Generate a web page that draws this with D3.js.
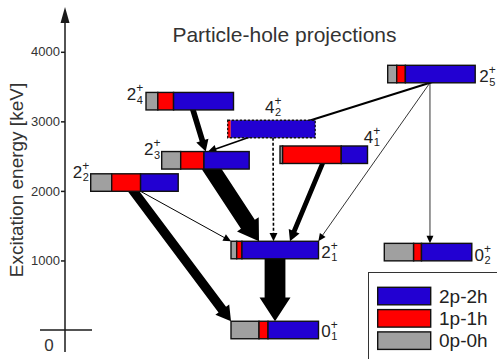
<!DOCTYPE html>
<html>
<head>
<meta charset="utf-8">
<script src="https://cdn.jsdelivr.net/npm/d3@7"></script>
<style>
  html, body { margin: 0; padding: 0; background: #fff; }
  svg { display: block; font-family: "Liberation Sans", Arial, sans-serif; }
</style>
</head>
<body>
<svg id="chart" width="497" height="359"></svg>
<script>
// ---- Levels: spin, index, excitation energy (keV) and particle-hole content ----
const levelNames  = ["0_1", "2_1", "0_2", "2_2", "2_3", "2_4", "4_2", "4_1", "2_5"];
const levelSpin   = ["0", "2", "0", "2", "2", "2", "4", "4", "2"];
const levelIndex  = ["1", "1", "2", "2", "3", "4", "2", "1", "5"];
const levelEnergy = [0, 1150, 1120, 2120, 2440, 3290, 2890, 2520, 3680];
const proj0p0h    = [0.320, 0.065, 0.335, 0.240, 0.217, 0.135, 0.000, 0.030, 0.103];
const proj1p1h    = [0.103, 0.060, 0.090, 0.330, 0.266, 0.180, 0.035, 0.670, 0.099];
const proj2p2h    = [0.577, 0.875, 0.575, 0.430, 0.517, 0.685, 0.965, 0.300, 0.798];
const levelTentative = [false, false, false, false, false, false, true, false, false];

// ---- E2 transitions (relative strength, arbitrary units) ----
const transFrom     = ["2_4", "4_2", "2_5", "2_5", "2_5", "4_2", "4_1", "2_3", "2_2", "2_2", "2_1"];
const transTo       = ["2_3", "2_3", "4_2", "2_1", "0_2", "2_1", "2_1", "2_1", "2_1", "0_1", "0_1"];
const transStrength = [28, 8, 10, 4, 4, 8, 24, 83, 5, 47, 104];
const transTentative = [false, false, false, false, false, true, false, false, false, false, false];

const energyTicks = [1000, 2000, 3000, 4000];
const components  = ["2p-2h", "1p-1h", "0p-0h"];

// ---- Layout ----
const svg = d3.select("#chart");
const y = d3.scaleLinear().domain([0, 4000]).range([330, 51.8]);
const barW = 87.5, barH = 17.5;
const frac = d3.scaleLinear().domain([0, 1]).range([0, barW]);
const strokeW = d3.scaleLinear().domain([0, 100]).range([0, 20]);
const color = d3.scaleOrdinal().domain(components).range(["#2200d2", "#ff0000", "#a0a0a0"]);
const ink = "#1a1a1a";

// left edge of each level's bar
const column = { "0_1": 231, "2_1": 231, "0_2": 384.3, "2_2": 90.7, "2_3": 161.7,
                 "2_4": 146, "4_2": 227.7, "4_1": 280, "2_5": 387.7 };
// label anchor: reference edge of the bar and offset of the main glyph
const labelPlace = {
  "0_1": { edge: "right", dx: 2.7,   dy: 15.5 },
  "2_1": { edge: "right", dx: 2.7,   dy: 16.7 },
  "0_2": { edge: "right", dx: 2.7,   dy: 17.4 },
  "2_5": { edge: "right", dx: 4,     dy: 16.7 },
  "2_2": { edge: "left",  dx: -18,   dy: 3.7 },
  "2_3": { edge: "left",  dx: -17.7, dy: 3.7 },
  "2_4": { edge: "left",  dx: -19.3, dy: 7.7 },
  "4_2": { edge: "left",  dx: 37.3,  dy: -7.7 },
  "4_1": { edge: "right", dx: -3.7,  dy: -3 }
};
// where each arrow leaves / reaches a bar (fraction along the bar)
const arrowAnchor = [
  [0.537, 0.503, "top"], [0.232, 0.53, "top"], [0.483, 0.63, "mid"],
  [0.483, 0.998, "top"], [0.483, 0.522, "top"], [0.518, 0.486, "top"],
  [0.486, 0.674, "top"], [0.571, 0.32, "top"], [0.569, 0.0, "top"],
  [0.49, 0.0, "top"], [0.503, 0.503, "top"]
];

const levels = levelNames.map((name, i) => ({
  name, spin: levelSpin[i], index: levelIndex[i], energy: levelEnergy[i],
  tentative: levelTentative[i],
  "0p-0h": proj0p0h[i], "1p-1h": proj1p1h[i], "2p-2h": proj2p2h[i]
}));
const byName = Object.fromEntries(levels.map(d => [d.name, d]));
const barTop = d => y(d.energy) - barH / 2;
const barLeft = d => column[d.name];

// ---- Axis ----
const axisX = 65;
const axisG = svg.append("g").attr("transform", `translate(${axisX},0)`)
  .call(d3.axisLeft(y).tickValues(energyTicks).tickSize(4).tickPadding(1).tickFormat(d3.format("d")));
axisG.select(".domain").remove();
axisG.selectAll(".tick line").attr("stroke", ink).attr("stroke-width", 1.5);
axisG.selectAll(".tick text").attr("fill", "#333").attr("font-size", 13)
  .attr("font-family", "Liberation Sans, Arial, sans-serif");

svg.append("line").attr("x1", axisX).attr("x2", axisX).attr("y1", 352).attr("y2", 20)
  .attr("stroke", ink).attr("stroke-width", 1.5);
svg.append("path").attr("d", `M${axisX},7 L${axisX - 4.5},23 L${axisX + 4.5},23 Z`).attr("fill", ink);
svg.append("line").attr("x1", 40).attr("x2", 92).attr("y1", y(0)).attr("y2", y(0))
  .attr("stroke", ink).attr("stroke-width", 1.5);
svg.append("text").attr("x", 49).attr("y", 351).attr("text-anchor", "middle")
  .attr("font-size", 17).attr("fill", "#333").text("0");

svg.append("text").attr("transform", "translate(23,180) rotate(-90)")
  .attr("text-anchor", "middle").attr("font-size", 19).attr("fill", "#333")
  .text("Excitation energy [keV]");

svg.append("text").attr("x", 284.5).attr("y", 41.5).attr("text-anchor", "middle")
  .attr("font-size", 21).attr("fill", "#333").text("Particle-hole projections");

// ---- Transitions ----
const arrowG = svg.append("g");
transFrom.forEach((f, i) => {
  const src = byName[f], dst = byName[transTo[i]];
  const [fa, ta, mode] = arrowAnchor[i];
  const w = strokeW(transStrength[i]);
  const A = [barLeft(src) + frac(fa), barTop(src) + barH];
  const T = [barLeft(dst) + frac(ta), mode === "mid" ? barTop(dst) + barH / 2 : barTop(dst)];
  const dx = T[0] - A[0], dy = T[1] - A[1], L = Math.hypot(dx, dy);
  const ux = dx / L, uy = dy / L, nx = -uy, ny = ux;
  const S = [A[0] - ux * 5, A[1] - uy * 5];
  const hw = 1.2 * w + 6, hl = 0.8 * w + 7;
  const B = [T[0] - ux * hl, T[1] - uy * hl];
  const head = [[B[0] + nx * hw / 2, B[1] + ny * hw / 2], T, [B[0] - nx * hw / 2, B[1] - ny * hw / 2]];
  if (w < 3 || transTentative[i]) {
    arrowG.append("line").attr("x1", S[0]).attr("y1", S[1]).attr("x2", B[0] + ux).attr("y2", B[1] + uy)
      .attr("stroke", "#000").attr("stroke-width", w)
      .attr("stroke-dasharray", transTentative[i] ? "3,2" : null);
    arrowG.append("path").attr("d", d3.line()(head) + "Z").attr("fill", "#000");
  } else {
    const pts = [
      [S[0] + nx * w / 2, S[1] + ny * w / 2], [B[0] + nx * w / 2, B[1] + ny * w / 2],
      head[0], T, head[2],
      [B[0] - nx * w / 2, B[1] - ny * w / 2], [S[0] - nx * w / 2, S[1] - ny * w / 2]
    ];
    arrowG.append("path").attr("d", d3.line()(pts) + "Z").attr("fill", "#000");
  }
});

// ---- Level bars (stacked projections) ----
const stack = d3.stack().keys(["0p-0h", "1p-1h", "2p-2h"]);
const series = stack(levels);
const barG = svg.append("g");
series.forEach(s => {
  s.forEach((seg, i) => {
    const d = levels[i];
    if (seg[1] - seg[0] <= 0) return;
    barG.append("rect")
      .attr("x", barLeft(d) + frac(seg[0])).attr("y", barTop(d))
      .attr("width", frac(seg[1] - seg[0])).attr("height", barH)
      .attr("fill", color(s.key))
      .attr("stroke", d.tentative ? "none" : "#111").attr("stroke-width", 1.4);
  });
});
// tentative level: dashed outline
levels.filter(d => d.tentative).forEach(d => {
  barG.append("rect").attr("x", barLeft(d)).attr("y", barTop(d))
    .attr("width", barW).attr("height", barH).attr("fill", "none")
    .attr("stroke", "#111").attr("stroke-width", 1.3).attr("stroke-dasharray", "2.5,1.5");
});

// ---- Level labels J^pi_n ----
const labG = svg.append("g").attr("fill", "#222");
levels.forEach(d => {
  const p = labelPlace[d.name];
  const x0 = (p.edge === "right" ? barLeft(d) + barW : barLeft(d)) + p.dx;
  const y0 = barTop(d) + p.dy;
  const main = labG.append("text").attr("x", x0).attr("y", y0).attr("font-size", 17).text(d.spin);
  const wm = main.node().getComputedTextLength();
  labG.append("text").attr("x", x0 + wm).attr("y", y0 - 8).attr("font-size", 12).text("+");
  labG.append("text").attr("x", x0 + wm + 0.5).attr("y", y0 + 3.5).attr("font-size", 11).text(d.index);
});

// ---- Legend ----
const lg = svg.append("g");
lg.append("rect").attr("x", 368.5).attr("y", 272.5).attr("width", 140).attr("height", 100)
  .attr("fill", "#fff").attr("stroke", "#333").attr("stroke-width", 1);
components.forEach((c, i) => {
  const top = 287.3 + i * 22.3;
  lg.append("rect").attr("x", 377.7).attr("y", top).attr("width", 53).attr("height", 17.5)
    .attr("fill", color(c)).attr("stroke", "#111").attr("stroke-width", 1.4);
  lg.append("text").attr("x", 439).attr("y", top + 15.4).attr("font-size", 19)
    .attr("fill", "#222").text(c);
});
</script>
</body>
</html>
